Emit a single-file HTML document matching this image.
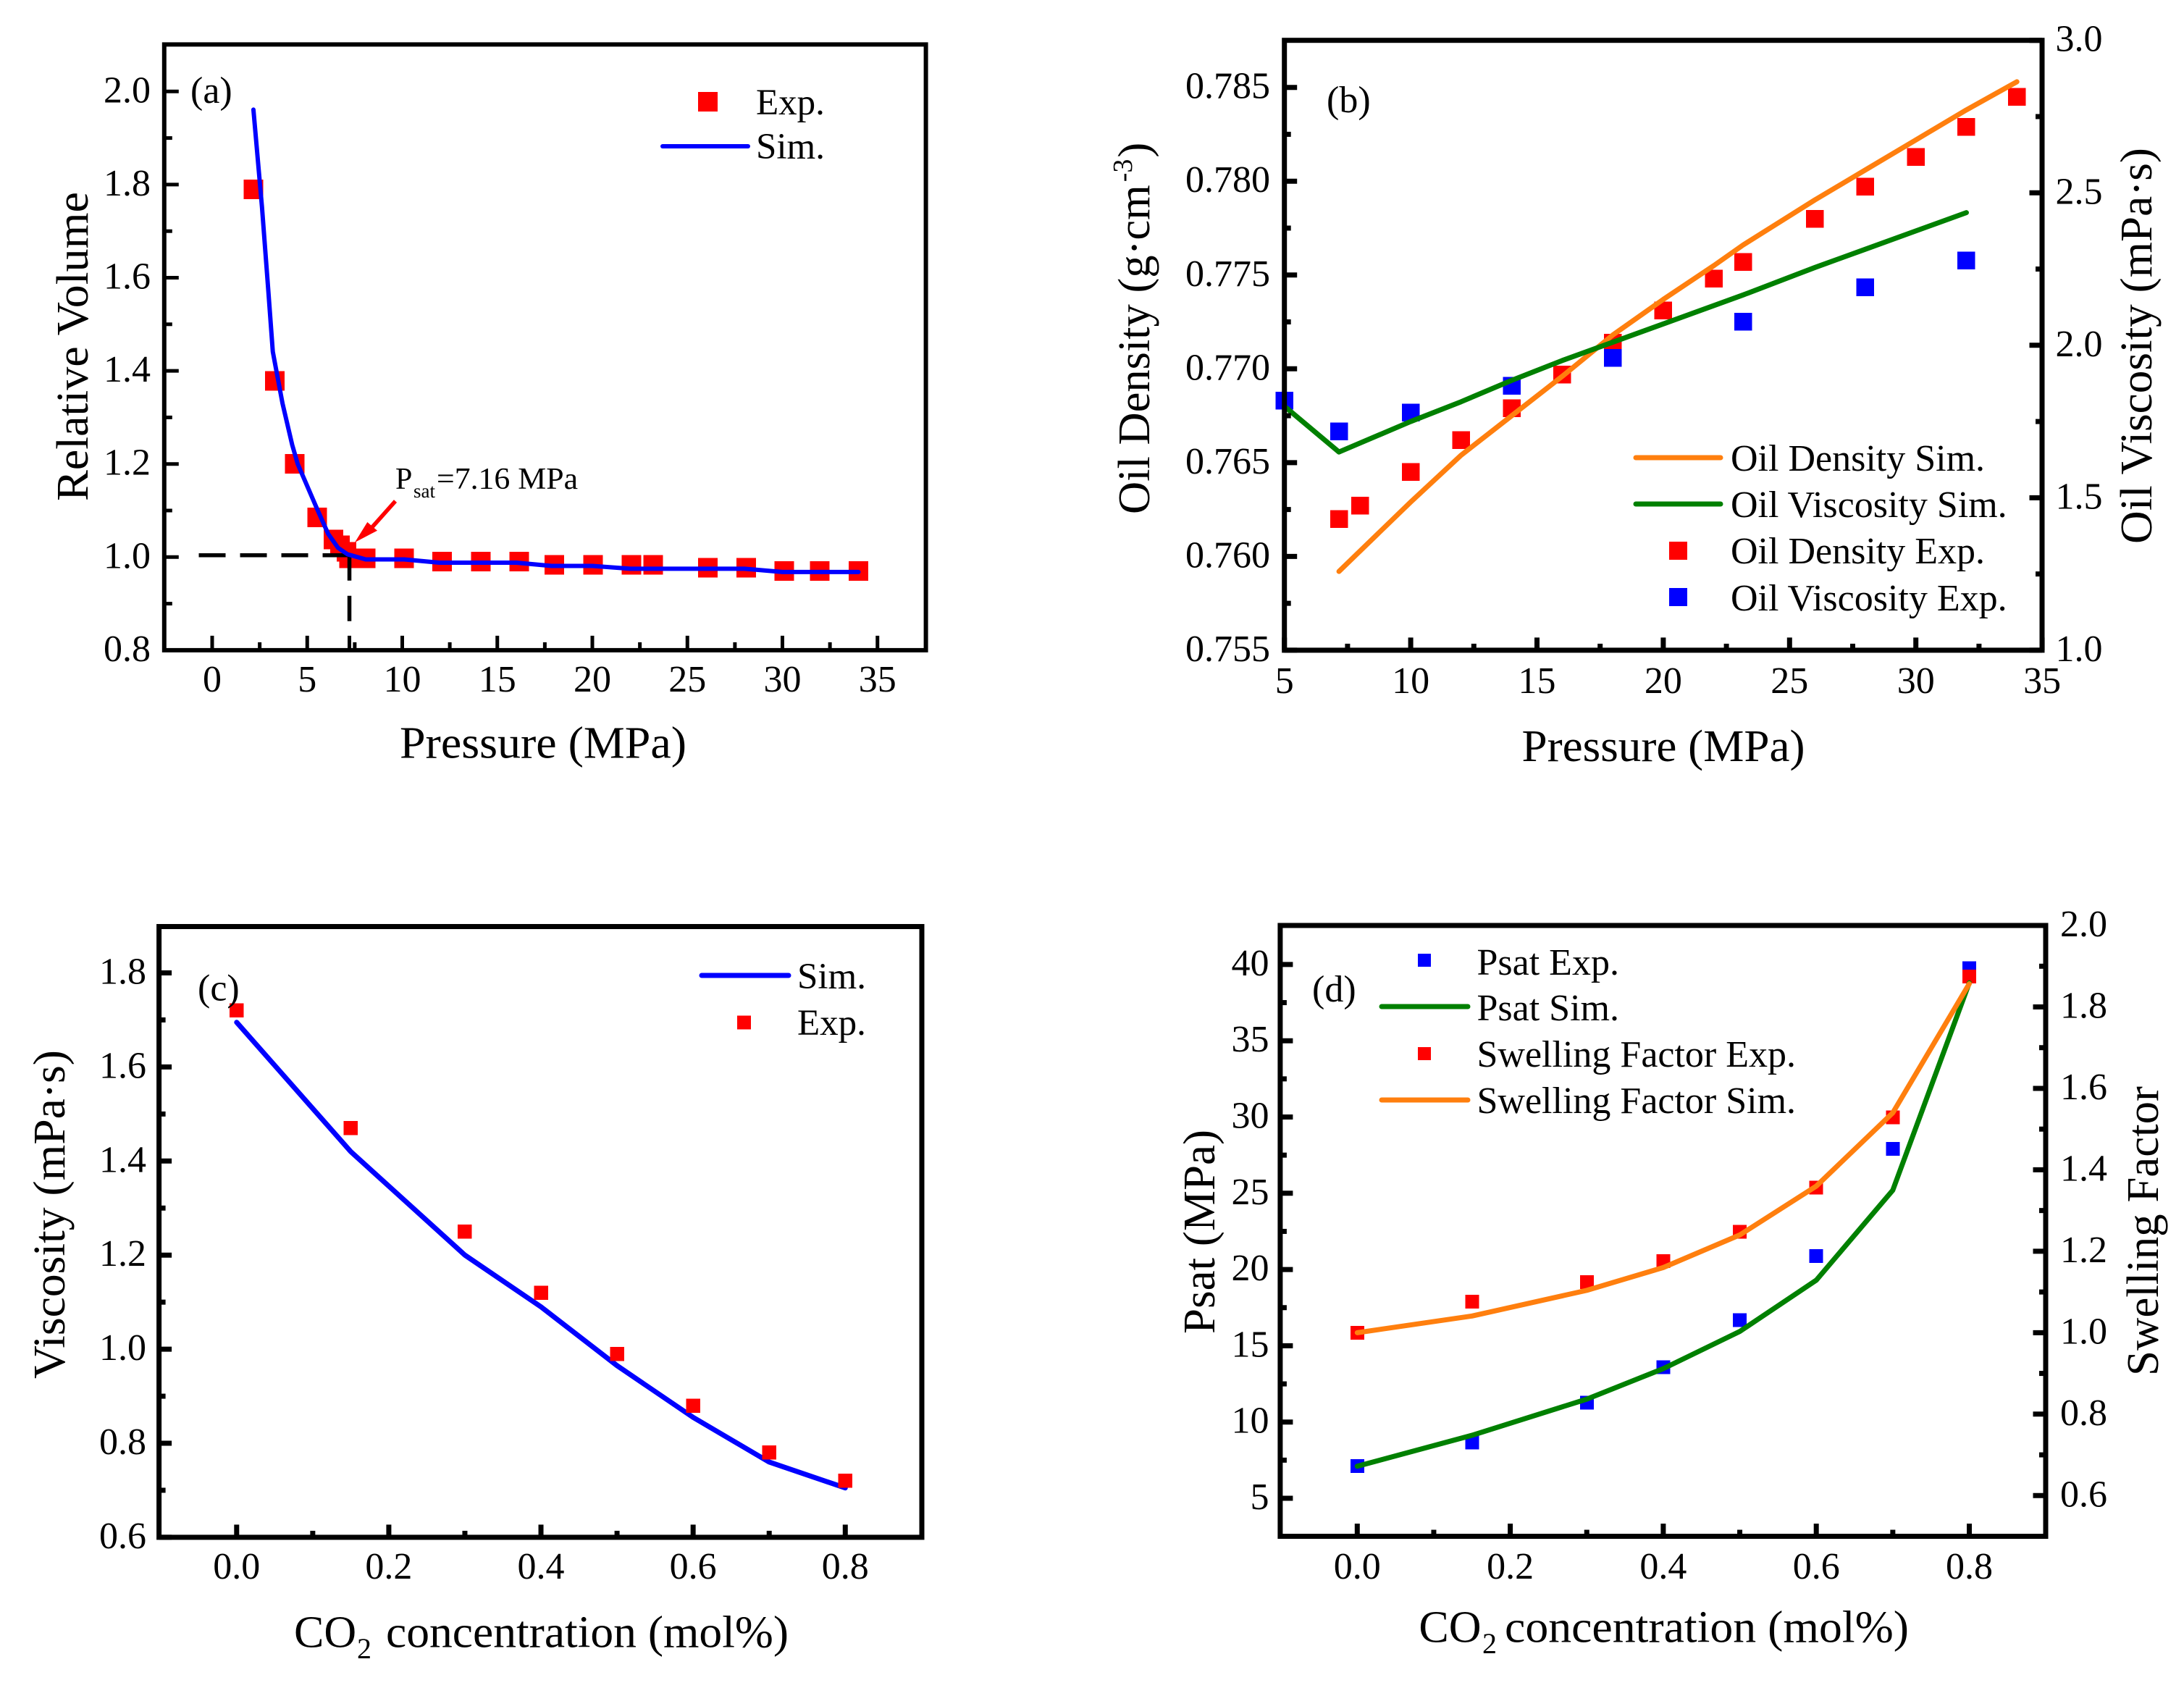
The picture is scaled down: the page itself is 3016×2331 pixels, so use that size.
<!DOCTYPE html>
<html lang="en">
<head>
<meta charset="utf-8">
<title>Oil property charts</title>
<style>
html,body{margin:0;padding:0;background:#fff;}
svg{display:block;}
text{font-family:"Liberation Serif",serif;fill:#000;}
.tk{font-size:52px;}
.tt{font-size:62px;}
.lg{font-size:52px;}
.lga{font-size:51px;}
.frame{fill:none;stroke:#000;}
</style>
</head>
<body>
<svg id="chart" xmlns="http://www.w3.org/2000/svg" width="3016" height="2331" viewBox="0 0 3016 2331">
<rect x="0" y="0" width="3016" height="2331" fill="#fff"/>

<g>
  <g id="a-marks"></g>
  <rect class="frame" stroke-width="6" x="226.8" y="61.4" width="1051.8" height="836.5"/>
  <g id="a-axes"></g>
  <text class="tt" x="552" y="1046.5" textLength="396" lengthAdjust="spacingAndGlyphs">Pressure (MPa)</text>
  <text class="tt" transform="translate(121,692) rotate(-90)" textLength="427" lengthAdjust="spacingAndGlyphs">Relative Volume</text>
  <text class="lg" x="263" y="142">(a)</text>
  <rect x="964" y="127" width="27" height="27" fill="#f00" shape-rendering="crispEdges"/>
  <text class="lga" x="1044" y="158">Exp.</text>
  <line x1="915" y1="202" x2="1033" y2="202" stroke="#00f" stroke-width="6" stroke-linecap="round"/>
  <text class="lga" x="1044" y="219">Sim.</text>
  <text x="546" y="675" font-size="42">P</text>
  <text x="571" y="687" font-size="27">sat</text>
  <text x="603" y="675" font-size="42" textLength="195" lengthAdjust="spacingAndGlyphs">=7.16 MPa</text>
  <line x1="546" y1="692" x2="513" y2="729" stroke="#f00" stroke-width="5.5"/>
  <polygon points="490,749 507.3,721 521,732.7" fill="#f00"/>
</g>

<g>
  <g id="b-marks"></g>
  <rect class="frame" stroke-width="7" x="1773.7" y="55.7" width="1046.3" height="842.2"/>
  <g id="b-axes"></g>
  <text class="tt" x="2101.5" y="1051" textLength="391" lengthAdjust="spacingAndGlyphs">Pressure (MPa)</text>
  <text class="tt" style="font-size:62.5px" transform="translate(1587,710) rotate(-90)">Oil Density (g·cm<tspan font-size="38" dy="-24" dx="4">-3</tspan><tspan dy="24" dx="2">)</tspan></text>
  <text class="tt" transform="translate(2971,751) rotate(-90)" textLength="547" lengthAdjust="spacingAndGlyphs">Oil Viscosity (mPa·s)</text>
  <text class="lg" x="1832" y="155">(b)</text>
  <line x1="2259" y1="632" x2="2376" y2="632" stroke="#ff7f0e" stroke-width="7" stroke-linecap="round"/>
  <line x1="2259" y1="696" x2="2376" y2="696" stroke="#008000" stroke-width="7" stroke-linecap="round"/>
  <rect x="2305" y="748" width="25" height="25" fill="#f00" shape-rendering="crispEdges"/>
  <rect x="2305" y="812" width="25" height="25" fill="#00f" shape-rendering="crispEdges"/>
  <text class="lg" x="2390" y="650">Oil Density Sim.</text>
  <text class="lg" x="2390" y="714">Oil Viscosity Sim.</text>
  <text class="lg" x="2390" y="778">Oil Density Exp.</text>
  <text class="lg" x="2390" y="843">Oil Viscosity Exp.</text>
</g>

<g>
  <g id="c-marks"></g>
  <rect class="frame" stroke-width="7" x="219.6" y="1279.5" width="1053.4" height="843.4"/>
  <g id="c-axes"></g>
  <text class="tt" x="406" y="2274.5">CO</text>
  <text x="493" y="2290" font-size="40">2</text>
  <text class="tt" x="533" y="2274.5" textLength="556" lengthAdjust="spacingAndGlyphs">concentration (mol%)</text>
  <text class="tt" transform="translate(89,1904) rotate(-90)" textLength="454" lengthAdjust="spacingAndGlyphs">Viscosity (mPa·s)</text>
  <text class="lg" x="273" y="1381.5">(c)</text>
  <line x1="969" y1="1347" x2="1089" y2="1347" stroke="#00f" stroke-width="7" stroke-linecap="round"/>
  <text class="lga" x="1101" y="1365">Sim.</text>
  <rect x="1018" y="1402.5" width="19" height="19" fill="#f00" shape-rendering="crispEdges"/>
  <text class="lga" x="1101" y="1429">Exp.</text>
</g>

<g>
  <g id="d-marks"></g>
  <rect class="frame" stroke-width="7" x="1767.9" y="1278" width="1057.1" height="843.5"/>
  <g id="d-axes"></g>
  <text class="tt" x="1959.4" y="2267.5">CO</text>
  <text x="2047" y="2283" font-size="40">2</text>
  <text class="tt" x="2078" y="2267.5" textLength="558" lengthAdjust="spacingAndGlyphs">concentration (mol%)</text>
  <text class="tt" transform="translate(1677,1842) rotate(-90)" textLength="282" lengthAdjust="spacingAndGlyphs">Psat (MPa)</text>
  <text class="tt" transform="translate(2980,1900) rotate(-90)" textLength="400" lengthAdjust="spacingAndGlyphs">Swelling Factor</text>
  <text class="lg" x="1812" y="1383">(d)</text>
  <rect x="1958" y="1317" width="18" height="18" fill="#00f" shape-rendering="crispEdges"/>
  <line x1="1908" y1="1390" x2="2027" y2="1390" stroke="#008000" stroke-width="7" stroke-linecap="round"/>
  <rect x="1958" y="1446" width="18" height="18" fill="#f00" shape-rendering="crispEdges"/>
  <line x1="1908" y1="1519" x2="2027" y2="1519" stroke="#ff7f0e" stroke-width="7" stroke-linecap="round"/>
  <text class="lg" x="2039.5" y="1346">Psat Exp.</text>
  <text class="lg" x="2039.5" y="1409">Psat Sim.</text>
  <text class="lg" x="2039.5" y="1473">Swelling Factor Exp.</text>
  <text class="lg" x="2039.5" y="1537">Swelling Factor Sim.</text>
</g>
</svg>

<script>
// ---------- Panel (a) data ----------
const aExpPressure = [2.17,3.3,4.35,5.53,6.38,6.72,7.06,7.2,8.08,10.1,12.1,14.13,16.15,18,20.03,22.05,23.2,26.08,28.1,30.1,31.97,34];
const aExpVolume   = [1.79,1.378,1.2,1.085,1.038,1.025,1.011,0.997,0.997,0.997,0.99,0.99,0.99,0.983,0.983,0.983,0.983,0.977,0.977,0.97,0.97,0.97];
const aSimPressure = [2.17,2.62,2.95,3.19,3.7,4.21,4.5,5.47,6.1,6.62,7.12,8.08,10.1,11.95,16,17.85,20,22,28,30,34];
const aSimVolume   = [1.961,1.752,1.574,1.441,1.33,1.241,1.2,1.108,1.05,1.02,1.006,0.995,0.995,0.988,0.988,0.981,0.981,0.975,0.975,0.968,0.968];
const aXTicks = [0,5,10,15,20,25,30,35];
const aXMinor = [2.5,7.5,12.5,17.5,22.5,27.5,32.5];
const aExtraXTick = [7.22];
const aYTicks = [0.8,1.0,1.2,1.4,1.6,1.8,2.0];
const aYLabels = ['0.8','1.0','1.2','1.4','1.6','1.8','2.0'];
const aYMinor = [0.9,1.1,1.3,1.5,1.7,1.9];
const aGuideValue = [1.004];
const aGuideEnds = [-0.76,0.86];

// ---------- Panel (b) data ----------
const bDensityExpP = [7.16,8,10,12,14,16,18,20,22,23.16,26,28,30,32,34];
const bDensityExp  = [0.762,0.7627,0.7645,0.7662,0.7679,0.7697,0.7714,0.7731,0.7748,0.7757,0.778,0.7797,0.7813,0.7829,0.7845];
const bViscExpP = [5,7.16,10,14,18,23.16,28,32];
const bViscExp  = [1.818,1.718,1.779,1.867,1.958,2.077,2.19,2.278];
const bDensitySimP = [7.16,10,12,14,16,18,20,22,23.16,26,28,30,32,34];
const bDensitySim  = [0.7592,0.7629,0.7654,0.7675,0.7696,0.7718,0.7737,0.7755,0.7766,0.779,0.7806,0.7822,0.7838,0.7853];
const bViscSimP = [5,7.16,10,12,14,16,18,20,23.16,26,28,30,32];
const bViscSim  = [1.8,1.65,1.75,1.815,1.885,1.95,2.01,2.07,2.165,2.255,2.315,2.375,2.435];
const bXTicks = [5,10,15,20,25,30,35];
const bXMinor = [7.5,12.5,17.5,22.5,27.5,32.5];
const bLeftTicks = [0.755,0.76,0.765,0.77,0.775,0.78,0.785];
const bLeftLabels = ['0.755','0.760','0.765','0.770','0.775','0.780','0.785'];
const bLeftMinor = [0.7575,0.7625,0.7675,0.7725,0.7775,0.7825];
const bRightTicks = [1,1.5,2,2.5,3];
const bRightLabels = ['1.0','1.5','2.0','2.5','3.0'];
const bRightMinor = [1.25,1.75,2.25,2.75];

// ---------- Panel (c) data ----------
const cConc = [0,0.15,0.3,0.4,0.5,0.6,0.7,0.8];
const cViscExp = [1.72,1.47,1.25,1.12,0.99,0.88,0.78,0.72];
const cViscSim = [1.695,1.42,1.2,1.09,0.965,0.855,0.76,0.705];
const cXTicks = [0,0.2,0.4,0.6,0.8];
const cXLabels = ['0.0','0.2','0.4','0.6','0.8'];
const cXMinor = [0.1,0.3,0.5,0.7];
const cYTicks = [0.6,0.8,1.0,1.2,1.4,1.6,1.8];
const cYLabels = ['0.6','0.8','1.0','1.2','1.4','1.6','1.8'];
const cYMinor = [0.7,0.9,1.1,1.3,1.5,1.7];

// ---------- Panel (d) data ----------
const dConc = [0,0.15,0.3,0.4,0.5,0.6,0.7,0.8];
const dPsatExp = [7.12,8.65,11.27,13.6,16.67,20.88,27.9,39.75];
const dPsatSim = [7.1,9.13,11.5,13.5,15.94,19.3,25.2,38.8];
const dSwellExp = [1.0,1.076,1.124,1.176,1.248,1.356,1.529,1.875];
const dSwellSim = [1.0,1.041,1.104,1.16,1.24,1.36,1.54,1.857];
const dXTicks = [0,0.2,0.4,0.6,0.8];
const dXLabels = ['0.0','0.2','0.4','0.6','0.8'];
const dXMinor = [0.1,0.3,0.5,0.7];
const dLeftTicks = [5,10,15,20,25,30,35,40];
const dLeftLabels = ['5','10','15','20','25','30','35','40'];
const dLeftMinor = [7.5,12.5,17.5,22.5,27.5,32.5,37.5];
const dRightTicks = [0.6,0.8,1.0,1.2,1.4,1.6,1.8,2.0];
const dRightLabels = ['0.6','0.8','1.0','1.2','1.4','1.6','1.8','2.0'];
const dRightMinor = [0.7,0.9,1.1,1.3,1.5,1.7,1.9];

// ---------- Axis functions ----------
const axA = { x: v => 293 + v * 26.25, y: v => 897.9 - (v - 0.8) * 643 };
const axB = { x: v => 1773.7 + (v - 5) * 34.88, yL: v => 897.9 - (v - 0.755) * 25907, yR: v => 897.9 - (v - 1) * 421.1 };
const axC = { x: v => 326.8 + v * 1050.6, y: v => 2122.9 - (v - 0.6) * 649.5 };
const axD = { x: v => 1874.3 + v * 1056.5, yL: v => 2069 - (v - 5) * 21.06, yR: v => 2121.5 - (v - 0.5) * 562.3 };

const SVGNS = 'http://www.w3.org/2000/svg';
function make(tag, parent, attrs) {
  const el = document.createElementNS(SVGNS, tag);
  for (const k in attrs) el.setAttribute(k, attrs[k]);
  parent.appendChild(el);
  return el;
}

function drawMarkers(parent, xs, ys, sx, sy, size, color, name) {
  xs.forEach((v, i) => {
    const r = make('rect', parent, { x: sx(v) - size / 2, y: sy(ys[i]) - size / 2, width: size, height: size, fill: color, 'shape-rendering': 'crispEdges' });
    
    
  });
}

function drawLine(parent, xs, ys, sx, sy, width, color, name) {
  const p = make('polyline', parent, {
    points: xs.map((v, i) => sx(v).toFixed(2) + ',' + sy(ys[i]).toFixed(2)).join(' '),
    fill: 'none', stroke: color, 'stroke-width': width, 'stroke-linejoin': 'round', 'stroke-linecap': 'round'
  });
  
  
}

function xTicks(parent, vals, labels, sx, base, len, w, labelY, prefix) {
  vals.forEach((v, i) => {
    const t = make('line', parent, { x1: sx(v), x2: sx(v), y1: base, y2: base - len, stroke: '#000', 'stroke-width': w });
    
    
    if (labels) {
      const l = make('text', parent, { x: sx(v), y: labelY, 'text-anchor': 'middle', class: 'tk' });
      l.textContent = labels[i];
      
      
    }
  });
}

function yTicks(parent, vals, labels, sy, edge, dir, len, w, labelX, anchor, prefix) {
  vals.forEach((v, i) => {
    const t = make('line', parent, { x1: edge, x2: edge + dir * len, y1: sy(v), y2: sy(v), stroke: '#000', 'stroke-width': w });
    
    
    if (labels) {
      const l = make('text', parent, { x: labelX, y: sy(v) + 15, 'text-anchor': anchor, class: 'tk' });
      l.textContent = labels[i];
      
      
    }
  });
}

const byId = id => document.getElementById(id);

// ---------- Panel (a) ----------
(function () {
  const m = byId('a-marks'), g = byId('a-axes');
  drawMarkers(m, aExpPressure, aExpVolume, axA.x, axA.y, 27, '#f00', 'exp-marker');
  const hGuide = make('line', m, { x1: axA.x(aExtraXTick[0]), x2: axA.x(aGuideEnds[0]), y1: axA.y(aGuideValue[0]), y2: axA.y(aGuideValue[0]), stroke: '#000', 'stroke-width': 5.5, 'stroke-dasharray': '37 20' });
  
  
  const vGuide = make('line', m, { x1: axA.x(aExtraXTick[0]), x2: axA.x(aExtraXTick[0]), y1: axA.y(aGuideValue[0]), y2: axA.y(aGuideEnds[1]), stroke: '#000', 'stroke-width': 5.5, 'stroke-dasharray': '35 21' });
  
  
  drawLine(m, aSimPressure, aSimVolume, axA.x, axA.y, 6, '#00f', 'sim-line');
  xTicks(g, aXTicks, aXTicks.map(String), axA.x, 897.9, 20, 5, 955, 'panel-a');
  xTicks(g, aXMinor, null, axA.x, 897.9, 11, 5, 0, 'panel-a-minor');
  xTicks(g, aExtraXTick, null, axA.x, 897.9, 20, 5, 0, 'panel-a-psat');
  yTicks(g, aYTicks, aYLabels, axA.y, 226.8, 1, 20, 5, 208, 'end', 'panel-a');
  yTicks(g, aYMinor, null, axA.y, 226.8, 1, 11, 5, 0, 'end', 'panel-a-minor');
})();

// ---------- Panel (b) ----------
(function () {
  const m = byId('b-marks'), g = byId('b-axes');
  drawMarkers(m, bDensityExpP, bDensityExp, axB.x, axB.yL, 24.5, '#f00', 'density-exp-marker');
  drawMarkers(m, bViscExpP, bViscExp, axB.x, axB.yR, 24.5, '#00f', 'viscosity-exp-marker');
  drawLine(m, bDensitySimP, bDensitySim, axB.x, axB.yL, 7, '#ff7f0e', 'density-sim-line');
  drawLine(m, bViscSimP, bViscSim, axB.x, axB.yR, 7, '#008000', 'viscosity-sim-line');
  xTicks(g, bXTicks, bXTicks.map(String), axB.x, 897.9, 17.5, 7, 957, 'panel-b');
  xTicks(g, bXMinor, null, axB.x, 897.9, 9, 7, 0, 'panel-b-minor');
  yTicks(g, bLeftTicks, bLeftLabels, axB.yL, 1773.7, 1, 17.5, 7, 1754, 'end', 'panel-b-left');
  yTicks(g, bLeftMinor, null, axB.yL, 1773.7, 1, 9, 7, 0, 'end', 'panel-b-left-minor');
  yTicks(g, bRightTicks, bRightLabels, axB.yR, 2820, -1, 17.5, 7, 2838.5, 'start', 'panel-b-right');
  yTicks(g, bRightMinor, null, axB.yR, 2820, -1, 9, 7, 0, 'start', 'panel-b-right-minor');
})();

// ---------- Panel (c) ----------
(function () {
  const m = byId('c-marks'), g = byId('c-axes');
  drawLine(m, cConc, cViscSim, axC.x, axC.y, 7, '#00f', 'sim-line');
  drawMarkers(m, cConc, cViscExp, axC.x, axC.y, 19.5, '#f00', 'exp-marker');
  xTicks(g, cXTicks, cXLabels, axC.x, 2122.9, 17.5, 7, 2180, 'panel-c');
  xTicks(g, cXMinor, null, axC.x, 2122.9, 9, 7, 0, 'panel-c-minor');
  yTicks(g, cYTicks, cYLabels, axC.y, 219.6, 1, 17.5, 7, 202, 'end', 'panel-c');
  yTicks(g, cYMinor, null, axC.y, 219.6, 1, 9, 7, 0, 'end', 'panel-c-minor');
})();

// ---------- Panel (d) ----------
(function () {
  const m = byId('d-marks'), g = byId('d-axes');
  drawMarkers(m, dConc, dPsatExp, axD.x, axD.yL, 19, '#00f', 'psat-exp-marker');
  drawMarkers(m, dConc, dSwellExp, axD.x, axD.yR, 19, '#f00', 'swelling-exp-marker');
  drawLine(m, dConc, dPsatSim, axD.x, axD.yL, 7, '#008000', 'psat-sim-line');
  drawLine(m, dConc, dSwellSim, axD.x, axD.yR, 7, '#ff7f0e', 'swelling-sim-line');
  xTicks(g, dXTicks, dXLabels, axD.x, 2121.5, 17.5, 7, 2180, 'panel-d');
  xTicks(g, dXMinor, null, axD.x, 2121.5, 9, 7, 0, 'panel-d-minor');
  yTicks(g, dLeftTicks, dLeftLabels, axD.yL, 1767.9, 1, 17.5, 7, 1752.5, 'end', 'panel-d-left');
  yTicks(g, dLeftMinor, null, axD.yL, 1767.9, 1, 9, 7, 0, 'end', 'panel-d-left-minor');
  yTicks(g, dRightTicks, dRightLabels, axD.yR, 2825, -1, 17.5, 7, 2845, 'start', 'panel-d-right');
  yTicks(g, dRightMinor, null, axD.yR, 2825, -1, 9, 7, 0, 'start', 'panel-d-right-minor');
})();
</script>
</body>
</html>
